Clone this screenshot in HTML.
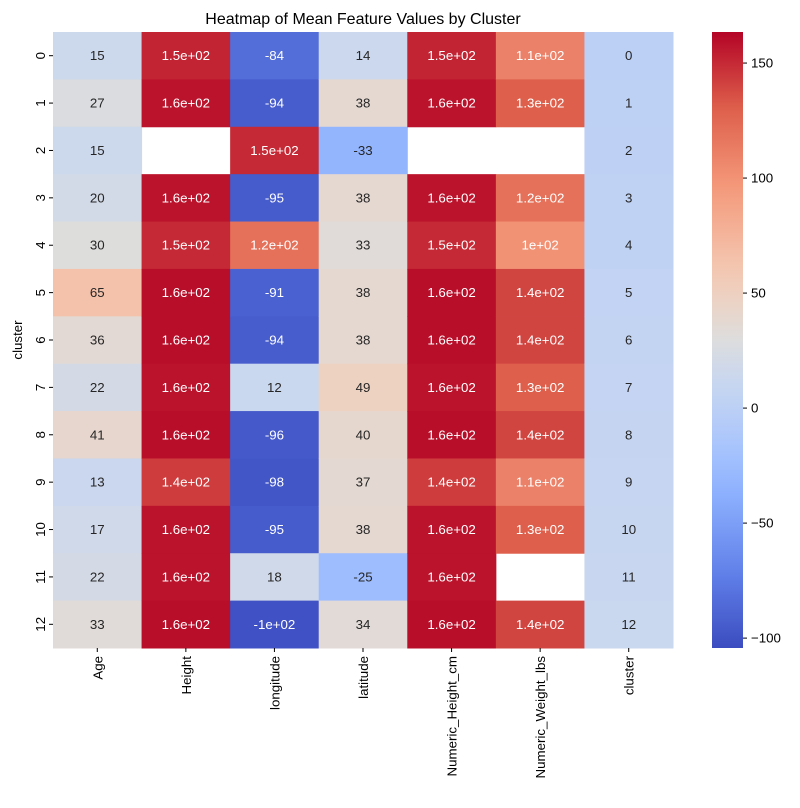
<!DOCTYPE html>
<html><head><meta charset="utf-8"><style>
html,body{margin:0;padding:0;background:#fff;}
svg{display:block;font-family:"Liberation Sans","DejaVu Sans",sans-serif;}
</style></head><body>
<svg id="chart" width="800" height="808" xmlns="http://www.w3.org/2000/svg">
<defs><linearGradient id="cbg" x1="0" y1="1" x2="0" y2="0"></linearGradient></defs>
<text x="363" y="24" text-anchor="middle" font-size="16" fill="#000">Heatmap of Mean Feature Values by Cluster</text>
<text transform="translate(22,340) rotate(-90)" text-anchor="middle" font-size="13.3" fill="#000">cluster</text>
</svg>
<script>
const columns = ["Age","Height","longitude","latitude","Numeric_Height_cm","Numeric_Weight_lbs","cluster"];
const rowLabels = ["0","1","2","3","4","5","6","7","8","9","10","11","12"];
const ageVals = [15,27,15,20,30,65,36,22,41,13,17,22,33];
const heightVals = [152,158,null,158,150,160,160,158,160,143,158,158,160];
const longitudeVals = [-84,-94,150,-95,120,-91,-94,12,-96,-98,-95,18,-101];
const latitudeVals = [14,38,-33,38,33,38,38,49,40,37,38,-25,34];
const numHeightVals = [152,158,null,158,150,160,160,158,160,143,158,158,160];
const numWeightVals = [110,130,null,120,100,140,140,130,140,110,130,null,140];
const clusterVals = [0,1,2,3,4,5,6,7,8,9,10,11,12];
const cbTicks = [150,100,50,0,-50,-100];
const vmin = -104.3, vmax = 163.5;

const series = [ageVals,heightVals,longitudeVals,latitudeVals,numHeightVals,numWeightVals,clusterVals];
const NS = "http://www.w3.org/2000/svg";
const svg = document.getElementById('chart');
const X0=53, X1=673, Y0=32, Y1=648;
const cw=(X1-X0)/columns.length, rh=(Y1-Y0)/rowLabels.length;
const xPos = i => X0 + i*cw;
const yPos = j => Y0 + j*rh;
const CBX=712, CBW=31;
const cbY = v => Y0 + (vmax - v)/(vmax - vmin)*(Y1-Y0);

const stops=[[0,[59,76,192]],[0.125,[98,130,234]],[0.25,[141,176,254]],[0.3125,[164,194,254]],[0.389,[188,208,246]],[0.434,[201,215,239]],[0.5,[221,221,221]],[0.5625,[236,211,197]],[0.625,[244,196,173]],[0.75,[244,152,122]],[0.875,[222,96,76]],[1,[180,4,38]]];
function cmap(v){
  let t=Math.max(0,Math.min(1,(v-vmin)/(vmax-vmin)));
  for(let k=1;k<stops.length;k++){
    if(t<=stops[k][0]){
      const a=stops[k-1],b=stops[k],f=(t-a[0])/(b[0]-a[0]);
      return a[1].map((c,i)=>Math.round(c+(b[1][i]-c)*f));
    }
  }
  return stops[stops.length-1][1];
}
function fmt(v){
  if(Math.abs(v)>=100){
    let e=Math.floor(Math.log10(Math.abs(v)));
    let m=Math.round(v/Math.pow(10,e)*10)/10;
    if(Math.abs(m)>=10){m/=10;e+=1;}
    let ms=(m%1===0)?String(m):m.toFixed(1);
    return ms+"e+"+String(e).padStart(2,"0");
  }
  return String(Math.round(v));
}
function lum(c){
  const l=c.map(x=>{x/=255;return x<=0.03928?x/12.92:Math.pow((x+0.055)/1.055,2.4);});
  return 0.2126*l[0]+0.7152*l[1]+0.0722*l[2];
}
function mk(tag,attrs){const e=document.createElementNS(NS,tag);for(const k in attrs)e.setAttribute(k,attrs[k]);svg.appendChild(e);return e;}

series.forEach((vals,i)=>{
  vals.forEach((v,j)=>{
    if(v===null) return;
    const c=cmap(v);
    const r=mk('rect',{x:xPos(i),y:yPos(j),width:cw+0.5,height:rh+0.5,fill:`rgb(${c})`});
    
    
    const t=mk('text',{x:xPos(i)+cw/2,y:yPos(j)+rh/2+4.5,'text-anchor':'middle','font-size':'13.3',fill:lum(c)>0.408?'#262626':'#ffffff'});
    t.textContent=fmt(v);
    
    
  });
});
rowLabels.forEach((l,j)=>{
  const y=yPos(j)+rh/2;
  const tk=mk('line',{x1:X0-4,x2:X0,y1:y,y2:y,stroke:'#000','stroke-width':1});
  
  
  const t=mk('text',{transform:`translate(${X0-8},${y}) rotate(-90)`,'text-anchor':'middle','font-size':'13.3',fill:'#000'});
  t.textContent=l;
  
  
});
columns.forEach((l,i)=>{
  const x=xPos(i)+cw/2;
  const tk=mk('line',{x1:x,x2:x,y1:Y1,y2:Y1+4,stroke:'#000','stroke-width':1});
  
  
  const t=mk('text',{transform:`translate(${x+5},${Y1+8}) rotate(-90)`,'text-anchor':'end','font-size':'13.3',fill:'#000'});
  t.textContent=l;
  
  
});
const g=document.getElementById('cbg');
for(let k=0;k<=40;k++){
  const c=cmap(vmin+(vmax-vmin)*k/40);
  const s=document.createElementNS(NS,'stop');
  s.setAttribute('offset',k/40);s.setAttribute('stop-color',`rgb(${c})`);g.appendChild(s);
}
const cb=mk('rect',{x:CBX,y:Y0,width:CBW,height:Y1-Y0,fill:'url(#cbg)'});


cbTicks.forEach(v=>{
  const y=cbY(v);
  const tk=mk('line',{x1:CBX+CBW,x2:CBX+CBW+4,y1:y,y2:y,stroke:'#000','stroke-width':1});
  
  
  const t=mk('text',{x:CBX+CBW+8,y:y+4.5,'font-size':'13.3',fill:'#000'});
  t.textContent=v<0?'\u2212'+Math.abs(v):String(v);
  
  
});
</script>
</body></html>
